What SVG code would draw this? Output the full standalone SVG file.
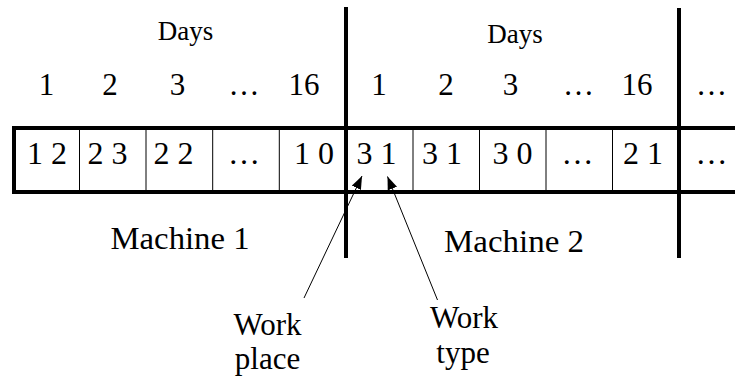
<svg xmlns="http://www.w3.org/2000/svg" width="735" height="378" viewBox="0 0 735 378">
<defs>
<style>
text{font-family:'Liberation Serif','Times New Roman',Times,'DejaVu Serif',serif;fill:#000;text-anchor:middle}
.day{font-size:31px}
.cell{font-size:32px}
.hdr{font-size:27px}
.lbl{font-size:31px}
.thick{stroke:#000;stroke-width:4;fill:none}
.thin{stroke:#000;stroke-width:1;fill:none}
.arr{stroke:#000;stroke-width:1;fill:none;marker-end:url(#ah)}
</style>
<marker id="ah" markerUnits="userSpaceOnUse" markerWidth="14" markerHeight="10" refX="13" refY="5" orient="auto">
<path d="M0,0 L13,5 L0,10 Z" fill="#000"/>
</marker>
</defs>
<rect width="735" height="378" fill="#fff"/>
<g id="grid">
<line class="thick" x1="12" y1="128" x2="735" y2="128"/>
<line class="thick" x1="12" y1="192" x2="735" y2="192"/>
<line class="thick" x1="14" y1="126" x2="14" y2="194"/>
<line class="thick" x1="346" y1="7" x2="346" y2="258"/>
<line class="thick" x1="679" y1="8" x2="679" y2="258"/>
<line class="thin" x1="79.5" y1="128" x2="79.5" y2="192"/>
<line class="thin" x1="146" y1="128" x2="146" y2="192"/>
<line class="thin" x1="212.7" y1="128" x2="212.7" y2="192"/>
<line class="thin" x1="279.3" y1="128" x2="279.3" y2="192"/>
<line class="thin" x1="413" y1="128" x2="413" y2="192"/>
<line class="thin" x1="479.5" y1="128" x2="479.5" y2="192"/>
<line class="thin" x1="546" y1="128" x2="546" y2="192"/>
<line class="thin" x1="612.5" y1="128" x2="612.5" y2="192"/>
</g>
<g id="machine1">
<text class="hdr" x="185.5" y="40">Days</text>
<text class="day" x="46.5" y="95">1</text>
<text class="day" x="110" y="95">2</text>
<text class="day" x="177.5" y="95">3</text>
<text class="day" x="244" y="95">…</text>
<text class="day" x="304" y="95">16</text>
<text class="cell" x="47" y="164" xml:space="preserve">1 2</text>
<text class="cell" x="107.5" y="164" xml:space="preserve">2 3</text>
<text class="cell" x="173.5" y="164" xml:space="preserve">2 2</text>
<text class="cell" x="244" y="164">…</text>
<text class="cell" x="314" y="164" xml:space="preserve">1 0</text>
<text class="lbl" x="180" y="248.5" textLength="139" lengthAdjust="spacingAndGlyphs">Machine 1</text>
</g>
<g id="machine2">
<text class="hdr" x="515" y="43">Days</text>
<text class="day" x="379" y="95">1</text>
<text class="day" x="446" y="95">2</text>
<text class="day" x="510.5" y="95">3</text>
<text class="day" x="578.5" y="95">…</text>
<text class="day" x="637" y="95">16</text>
<text class="day" x="711.5" y="95">…</text>
<text class="cell" x="376.5" y="164" xml:space="preserve">3 1</text>
<text class="cell" x="442" y="164" xml:space="preserve">3 1</text>
<text class="cell" x="512.5" y="164" xml:space="preserve">3 0</text>
<text class="cell" x="577.5" y="164">…</text>
<text class="cell" x="643" y="164" xml:space="preserve">2 1</text>
<text class="cell" x="711.5" y="164">…</text>
<text class="lbl" x="514" y="251.5" textLength="140" lengthAdjust="spacingAndGlyphs">Machine 2</text>
</g>
<g id="workplace">
<text class="lbl" x="267.5" y="335">Work</text>
<text class="lbl" x="267.5" y="369">place</text>
</g>
<g id="worktype">
<text class="lbl" x="464" y="328">Work</text>
<text class="lbl" x="463" y="363">type</text>
</g>
<g id="connectors">
<line class="arr" x1="304" y1="298" x2="362" y2="176"/>
<line class="arr" x1="437.5" y1="300" x2="387.5" y2="176.5"/>
</g>
</svg>
